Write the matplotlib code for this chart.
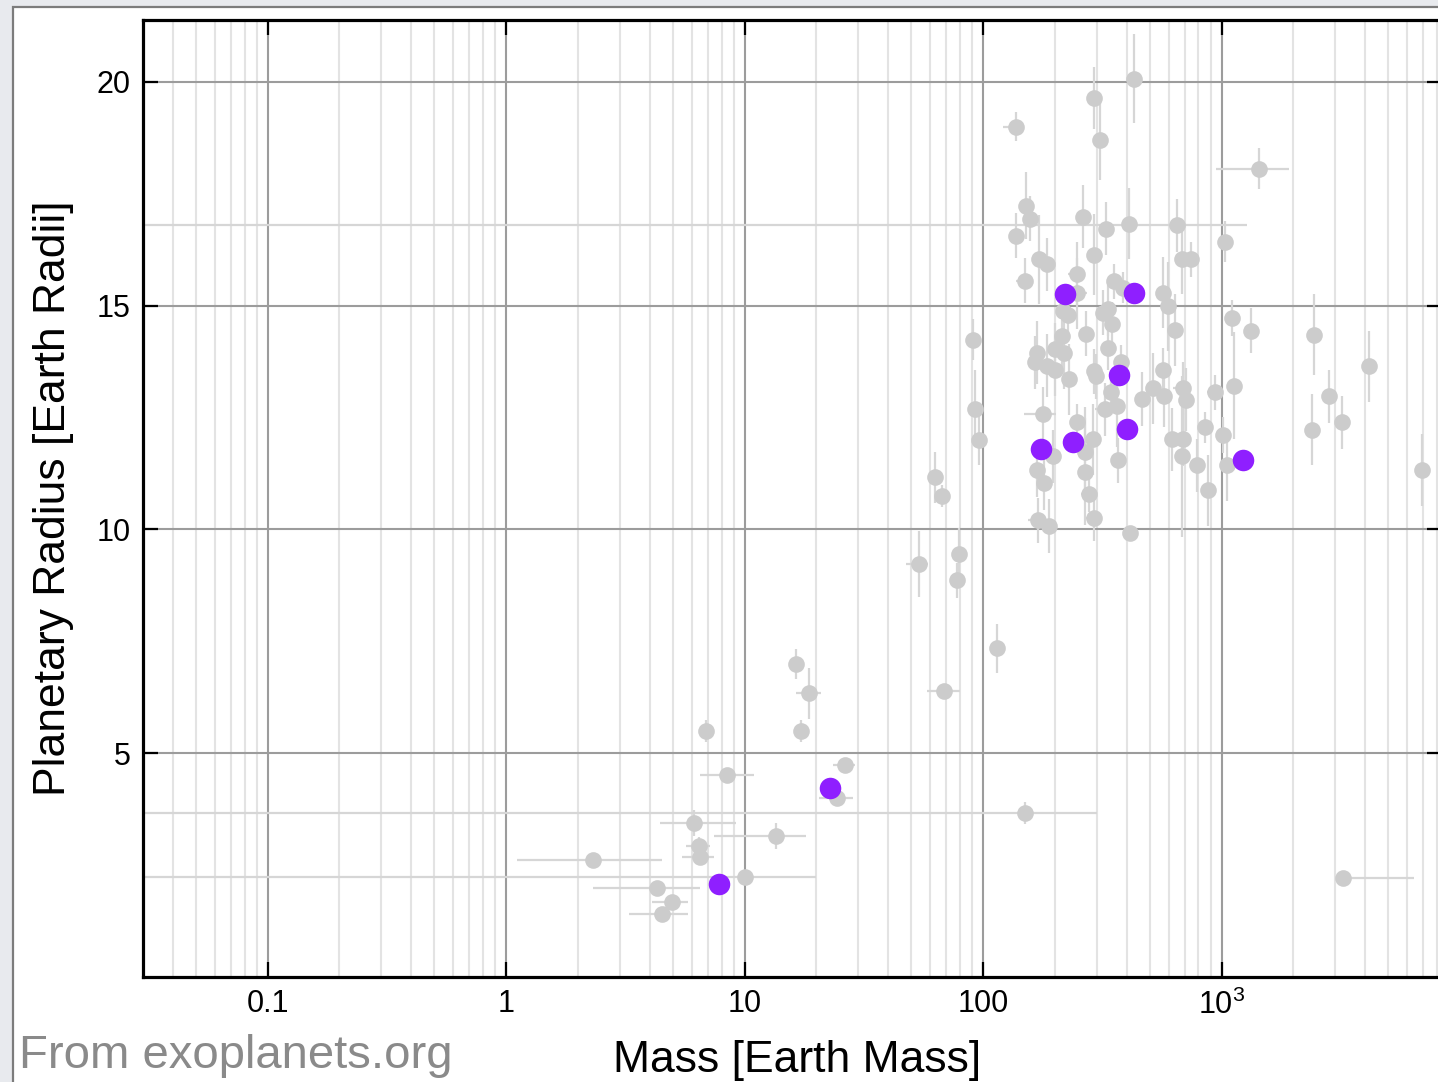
import matplotlib
matplotlib.use('Agg')
import matplotlib.pyplot as plt
from matplotlib.patches import Rectangle
from matplotlib.ticker import FixedLocator, FixedFormatter, LogLocator, NullFormatter
import numpy as np

plt.rcParams['font.family'] = ['Liberation Sans', 'DejaVu Sans']
plt.rcParams['mathtext.fontset'] = 'custom'
plt.rcParams['mathtext.rm'] = 'Liberation Sans'

# known planets (gray)
mass = [2.31, 4.28, 4.94, 4.49, 6.11, 6.41, 6.48, 6.87, 8.41, 10.0,
        13.49, 16.36, 18.55, 17.17, 24.5, 26.3, 68.3, 90.4, 92.1, 95.7,
        62.6, 67.0, 53.7, 78.9, 77.4, 114, 427.6, 290.5, 136.8, 307.9,
        1429, 152, 156.7, 138, 261.3, 326.3, 407.4, 647.6, 1029.5, 290.5,
        171, 184.6, 246.6, 149.3, 352.5, 384.5, 246.6, 565.8, 593.7, 1101.5,
        679.5, 741.3, 215.5, 226.2, 332.7, 317, 345.8, 269, 635.3, 1323,
        213.4, 167.6, 199.4, 217.6, 164.4, 184.6, 199.4, 228.4, 332.7, 377.2,
        290.5, 296.2, 565.8, 342.5, 362.8, 323.2, 462, 513.6, 571.3, 686.4,
        706.6, 934.6, 1122.6, 177.7, 246.6, 287.8, 266.4, 195.6, 366.4, 617,
        686.4, 848.7, 1010, 679.5, 785.7, 1049.5, 167.6, 266.4, 179.5, 873.6,
        276.8, 290.5, 169.3, 188.3, 415, 2432, 4132, 2810, 3186, 2385,
        6896, 3217, 149.3]
radius = [2.61, 1.99, 1.67, 1.41, 3.44, 2.92, 2.68, 5.49, 4.51, 2.23,
          3.15, 6.99, 6.34, 5.49, 4.0, 4.73, 6.38, 14.24, 12.70, 11.99,
          11.16, 10.74, 9.22, 9.44, 8.86, 7.34, 20.07, 19.64, 19.0, 18.71,
          18.06, 17.23, 16.94, 16.56, 16.99, 16.72, 16.83, 16.79, 16.43, 16.14,
          16.03, 15.92, 15.71, 15.56, 15.54, 15.40, 15.27, 15.29, 14.98, 14.73,
          16.05, 16.03, 14.87, 14.80, 14.93, 14.84, 14.58, 14.375, 14.46, 14.44,
          14.31, 13.95, 14.02, 13.93, 13.73, 13.66, 13.57, 13.35, 14.06, 13.73,
          13.53, 13.42, 13.55, 13.06, 12.75, 12.68, 12.92, 13.15, 12.99, 13.15,
          12.90, 13.06, 13.21, 12.57, 12.41, 12.01, 11.74, 11.63, 11.54, 12.01,
          12.01, 12.28, 12.10, 11.63, 11.43, 11.43, 11.32, 11.29, 11.03, 10.87,
          10.78, 10.25, 10.20, 10.07, 9.93, 14.35, 13.64, 12.97, 12.39, 12.23,
          11.32, 2.21, 3.66]
mass_err_lo = [1.20, 1.97, 0.87, 1.23, 1.71, 0.75, 1.04, 0.3, 1.93, 9.99,
               6.08, 0.5, 2.2, 0.4, 3.9, 2.9, 10.3, 5.0, 2.0, 2.0,
               2.0, 2.0, 6.0, 2.0, 2.0, 3.0, 0, 0, 16, 0,
               485, 0, 10, 8, 0, 15, 0, 647.58, 20, 0,
               0, 10, 20, 12, 0, 0, 10, 0, 0, 0,
               0, 40, 0, 0, 0, 0, 0, 0, 0, 0,
               0, 0, 0, 0, 0, 0, 0, 0, 0, 0,
               0, 0, 0, 0, 0, 30, 0, 0, 0, 60,
               0, 70, 0, 30, 0, 0, 0, 12, 0, 0,
               0, 0, 0, 0, 40, 0, 0, 0, 10, 0,
               20, 25, 15, 0, 0, 0, 0, 0, 0, 0,
               0, 0, 149.28]
mass_err_hi = [2.18, 2.20, 0.83, 1.28, 3.06, 0.72, 0.93, 0.3, 2.5, 10.0,
               4.6, 0.5, 2.3, 0.4, 3.9, 2.6, 11.4, 2.0, 2.0, 2.0,
               2.0, 2.0, 5.0, 2.0, 2.0, 3.0, 0, 0, 7, 0,
               481, 0, 10, 8, 0, 15, 0, 632, 20, 0,
               0, 10, 20, 12, 0, 0, 25, 0, 0, 0,
               0, 40, 0, 0, 0, 0, 0, 0, 0, 0,
               0, 0, 0, 0, 0, 0, 0, 0, 0, 0,
               0, 0, 0, 0, 0, 30, 0, 0, 0, 60,
               0, 70, 0, 25, 0, 0, 0, 12, 0, 0,
               0, 0, 0, 0, 40, 0, 0, 0, 10, 0,
               20, 25, 15, 0, 0, 0, 0, 0, 0, 0,
               0, 3166, 150]
radius_err = [0.15, 0.0, 0.0, 0.0, 0.3, 0.2, 0.1, 0.25, 0.0, 0.0,
              0.28, 0.33, 0.57, 0.25, 0.1, 0.1, 0.1, 0.45, 0.85, 0.55,
              0.58, 0.25, 0.74, 0.6, 0.4, 0.55, 1.0, 0.7, 0.33, 0.9,
              0.45, 0.75, 0.5, 0.5, 0.7, 0.6, 0.8, 0.6, 0.45, 0.9,
              1.0, 0.6, 0.7, 0.5, 0.4, 0.35, 0.8, 0.8, 1.0, 0.4,
              0.8, 0.4, 0.6, 0.6, 0.6, 0.5, 0.5, 0.5, 0.8, 0.5,
              0.8, 0.7, 0.6, 0.8, 0.6, 0.7, 0.6, 0.8, 0.5, 0.4,
              0.5, 0.5, 0.5, 0.5, 0.9, 0.6, 0.6, 0.8, 0.7, 0.6,
              0.7, 0.4, 1.2, 0.6, 0.4, 0.8, 1.0, 0.6, 0.5, 0.7,
              0.6, 0.35, 0.4, 1.8, 0.6, 0.8, 0.6, 1.2, 0.6, 0.8,
              0.4, 0.5, 0.5, 0.6, 0.0, 0.9, 0.8, 0.6, 0.6, 0.8,
              0.8, 0.0, 0.25]

# highlighted planets (purple)
hl_mass = [7.78, 22.9, 174.2, 237.3, 219.7, 427.6, 369.8, 399.7, 1224.5]
hl_radius = [2.08, 4.22, 11.79, 11.96, 15.25, 15.29, 13.44, 12.25, 11.54]

xticks = [0.1, 1, 10, 100, 1000]
xtick_labels = ['0.1', '1', '10', '100', r'$10^3$']
yticks = [5, 10, 15, 20]

W, H = 1438, 1082
fig = plt.figure(figsize=(W / 100, H / 100), dpi=100)
fig.patch.set_facecolor('#e8eaee')
fig.add_artist(Rectangle((13 / W, -0.02), 1.05, 1 - 7 / H + 0.02,
                         transform=fig.transFigure, facecolor='white',
                         edgecolor='#7c7c7c', lw=1.6, zorder=-1))

ax = fig.add_axes([143 / W, 1 - 977 / H, (1442 - 143) / W, (977 - 20) / H])
ax.set_xscale('log')
ax.set_xlim(0.03, 8400)
ax.set_ylim(0, 21.38)

ax.errorbar(mass, radius, xerr=[mass_err_lo, mass_err_hi], yerr=radius_err,
            fmt='none', ecolor='#d6d6d6', elinewidth=1.6, capsize=0, zorder=2)
ax.plot(mass, radius, 'o', color='#cccccc', markersize=12, mec='none', zorder=3)
ax.plot(hl_mass, hl_radius, 'o', color='#8f1fff', markersize=15.5, mec='none', zorder=4)

ax.xaxis.set_major_locator(FixedLocator(xticks))
ax.xaxis.set_major_formatter(FixedFormatter(xtick_labels))
ax.xaxis.set_minor_locator(LogLocator(base=10, subs=np.arange(2, 10), numticks=20))
ax.xaxis.set_minor_formatter(NullFormatter())
ax.set_yticks(yticks)

ax.grid(which='major', color='#9c9c9c', lw=1.5, zorder=0)
ax.grid(which='minor', axis='x', color='#e3e3e3', lw=1.5, zorder=0)
ax.set_axisbelow(True)

for s in ax.spines.values():
    s.set_linewidth(2.3)
    s.set_color('black')

ax.tick_params(which='major', direction='in', length=11, width=1.6,
               top=True, right=True, labelsize=22, pad=9)
ax.tick_params(which='minor', length=0)

ax.set_xlabel('Mass [Earth Mass]', fontsize=32)
ax.xaxis.set_label_coords((797 - 143) / 1299, (977 - 1040) / 957)
ax.set_ylabel('Planetary Radius [Earth Radii]', fontsize=32)
ax.yaxis.set_label_coords((74 - 143) / 1299, 0.5)

fig.text(19 / W, 1 - 1068 / H, 'From exoplanets.org', fontsize=34,
         color='#8a8a8a', ha='left', va='baseline')

fig.savefig('out.png', dpi=100)
